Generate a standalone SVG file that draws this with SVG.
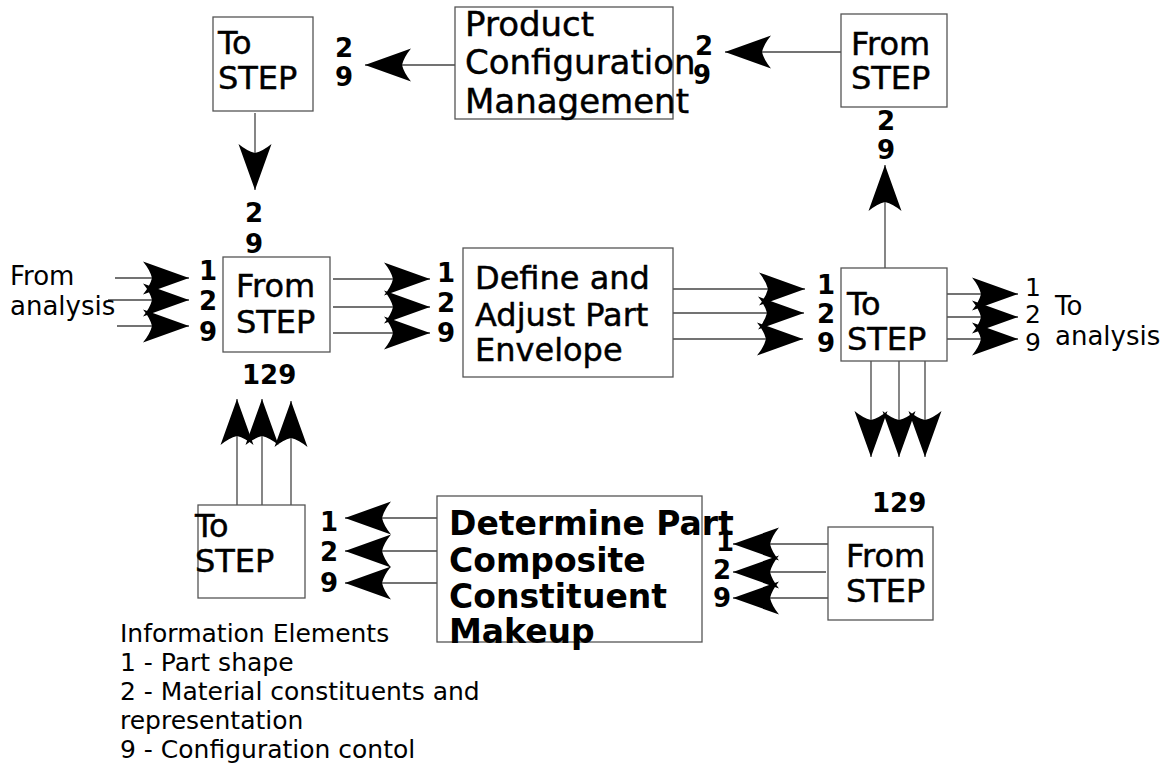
<svg xmlns="http://www.w3.org/2000/svg" width="1168" height="769" viewBox="0 0 1168 769">
  <style>
    .box { fill: #ffffff; stroke: #555555; stroke-width: 1.3; }
    .lbl { font-family: "DejaVu Sans", "Liberation Sans", sans-serif; fill: #000000; stroke: #000000; stroke-width: 0.45; }
    .big { font-size: 32px; }
    .heavy { font-family: "DejaVu Sans", "Liberation Sans", sans-serif; font-size: 33px; font-weight: bold; fill: #000000; }
    .num { font-family: "DejaVu Sans", "Liberation Sans", sans-serif; font-size: 26px; font-weight: bold; fill: #000000; }
    .thin { font-family: "DejaVu Sans", "Liberation Sans", sans-serif; font-size: 25px; fill: #000000; }
    .side { font-family: "DejaVu Sans", "Liberation Sans", sans-serif; font-size: 26px; fill: #000000; }
    .conn line { stroke: #444444; stroke-width: 1.3; marker-end: url(#head); }
  </style>
  <defs>
    <marker id="head" markerUnits="userSpaceOnUse" viewBox="-48 -18 50 36" markerWidth="50" markerHeight="36" refX="0" refY="0" orient="auto" overflow="visible">
      <path d="M0,0 L-46,-16.5 Q-39,-8 -37,0 Q-39,8 -46,16.5 Z" fill="#000000"/>
    </marker>
  </defs>
  <rect width="1168" height="769" fill="#ffffff"/>

  <!-- connectors -->
  <g id="connectors" class="conn">
    <!-- product configuration management to top-left export -->
    <line x1="455" y1="65" x2="365" y2="65"/>
    <!-- top-right import to product configuration management -->
    <line x1="841" y1="52" x2="725" y2="52"/>
    <!-- top-left export down -->
    <line x1="255" y1="113" x2="255" y2="190"/>
    <!-- right export up -->
    <line x1="885" y1="268" x2="885" y2="165"/>
    <!-- from analysis -->
    <line x1="115" y1="278" x2="189" y2="278"/>
    <line x1="108" y1="300" x2="189" y2="300"/>
    <line x1="117" y1="326" x2="189" y2="326"/>
    <!-- import to define -->
    <line x1="333" y1="279" x2="430" y2="279"/>
    <line x1="333" y1="307" x2="430" y2="307"/>
    <line x1="333" y1="333" x2="430" y2="333"/>
    <!-- define to export -->
    <line x1="673" y1="289" x2="805" y2="289"/>
    <line x1="673" y1="313" x2="804" y2="313"/>
    <line x1="673" y1="339" x2="803" y2="339"/>
    <!-- to analysis -->
    <line x1="947" y1="294" x2="1018" y2="294"/>
    <line x1="947" y1="317" x2="1018" y2="317"/>
    <line x1="947" y1="339" x2="1018" y2="339"/>
    <!-- export down -->
    <line x1="871" y1="361" x2="871" y2="457"/>
    <line x1="899" y1="361" x2="899" y2="457"/>
    <line x1="925" y1="361" x2="925" y2="457"/>
    <!-- bottom-right import to determine -->
    <line x1="828" y1="544" x2="733" y2="544"/>
    <line x1="826" y1="572" x2="733" y2="572"/>
    <line x1="828" y1="598" x2="733" y2="598"/>
    <!-- determine to bottom-left export -->
    <line x1="437" y1="518" x2="345" y2="518"/>
    <line x1="437" y1="551" x2="345" y2="551"/>
    <line x1="437" y1="583" x2="345" y2="583"/>
    <!-- bottom-left export up -->
    <line x1="237" y1="505" x2="237" y2="399"/>
    <line x1="262" y1="505" x2="262" y2="399"/>
    <line x1="291" y1="505" x2="291" y2="401"/>
  </g>

  <!-- nodes -->
  <g id="to-step-top">
    <rect class="box" x="213" y="17" width="100" height="94"/>
    <text class="lbl big" x="218" y="54">To</text>
    <text class="lbl big" x="218" y="89">STEP</text>
    <text class="num" x="335" y="57">2</text>
    <text class="num" x="335" y="86">9</text>
    <text class="num" x="245" y="222">2</text>
    <text class="num" x="245" y="253">9</text>
  </g>

  <g id="product-configuration">
    <rect class="box" x="455" y="7" width="218" height="112"/>
    <text class="lbl" font-size="34" x="465" y="36">Product</text>
    <text class="lbl" font-size="34" x="465" y="74">Configuration</text>
    <text class="lbl" font-size="34" x="465" y="113">Management</text>
    <text class="num" x="695" y="55">2</text>
    <text class="num" x="693" y="84">9</text>
  </g>

  <g id="from-step-top">
    <rect class="box" x="841" y="14" width="106" height="93"/>
    <text class="lbl big" x="851" y="55">From</text>
    <text class="lbl big" x="851" y="89">STEP</text>
    <text class="num" x="877" y="130">2</text>
    <text class="num" x="877" y="159">9</text>
  </g>

  <g id="from-analysis">
    <text class="side" x="10" y="285">From</text>
    <text class="side" x="10" y="315">analysis</text>
  </g>

  <g id="from-step-left">
    <text class="num" x="199" y="280">1</text>
    <text class="num" x="199" y="310">2</text>
    <text class="num" x="199" y="341">9</text>
    <rect class="box" x="223" y="257" width="107" height="95"/>
    <text class="lbl big" x="236" y="297">From</text>
    <text class="lbl big" x="236" y="333">STEP</text>
    <text class="num" x="242" y="384">129</text>
    <text class="num" x="437" y="282">1</text>
    <text class="num" x="437" y="312">2</text>
    <text class="num" x="437" y="342">9</text>
  </g>

  <g id="define-envelope">
    <rect class="box" x="463" y="248" width="210" height="129"/>
    <text class="lbl big" x="475" y="289">Define and</text>
    <text class="lbl big" x="475" y="326">Adjust Part</text>
    <text class="lbl big" x="475" y="361">Envelope</text>
  </g>

  <g id="to-step-right">
    <text class="num" x="817" y="294">1</text>
    <text class="num" x="817" y="323">2</text>
    <text class="num" x="817" y="352">9</text>
    <rect class="box" x="841" y="268" width="106" height="93"/>
    <text class="lbl big" x="847" y="315">To</text>
    <text class="lbl big" x="847" y="350">STEP</text>
    <text class="thin" x="1025" y="296">1</text>
    <text class="thin" x="1025" y="323">2</text>
    <text class="thin" x="1025" y="351">9</text>
    <text class="side" x="1055" y="315">To</text>
    <text class="side" x="1055" y="345">analysis</text>
  </g>

  <g id="from-step-bottom">
    <text class="num" x="872" y="512">129</text>
    <rect class="box" x="828" y="527" width="105" height="93"/>
    <text class="lbl big" x="846" y="567">From</text>
    <text class="lbl big" x="846" y="602">STEP</text>
    <text class="num" x="716" y="551">1</text>
    <text class="num" x="713" y="579">2</text>
    <text class="num" x="713" y="607">9</text>
  </g>

  <g id="determine-makeup">
    <rect class="box" x="437" y="496" width="265" height="146"/>
    <text class="heavy" x="449" y="535">Determine Part</text>
    <text class="heavy" x="449" y="572">Composite</text>
    <text class="heavy" x="449" y="608">Constituent</text>
    <text class="heavy" x="449" y="643">Makeup</text>
  </g>

  <g id="to-step-bottom">
    <rect class="box" x="198" y="505" width="107" height="93"/>
    <text class="lbl big" x="195" y="537">To</text>
    <text class="lbl big" x="195" y="572">STEP</text>
    <text class="num" x="320" y="531">1</text>
    <text class="num" x="320" y="561">2</text>
    <text class="num" x="320" y="592">9</text>
  </g>

  <g id="legend">
    <text class="thin" x="120" y="642">Information Elements</text>
    <text class="thin" x="120" y="671">1 - Part shape</text>
    <text class="thin" x="120" y="700">2 - Material constituents and</text>
    <text class="thin" x="120" y="729">representation</text>
    <text class="thin" x="120" y="758">9 - Configuration contol</text>
  </g>
</svg>
